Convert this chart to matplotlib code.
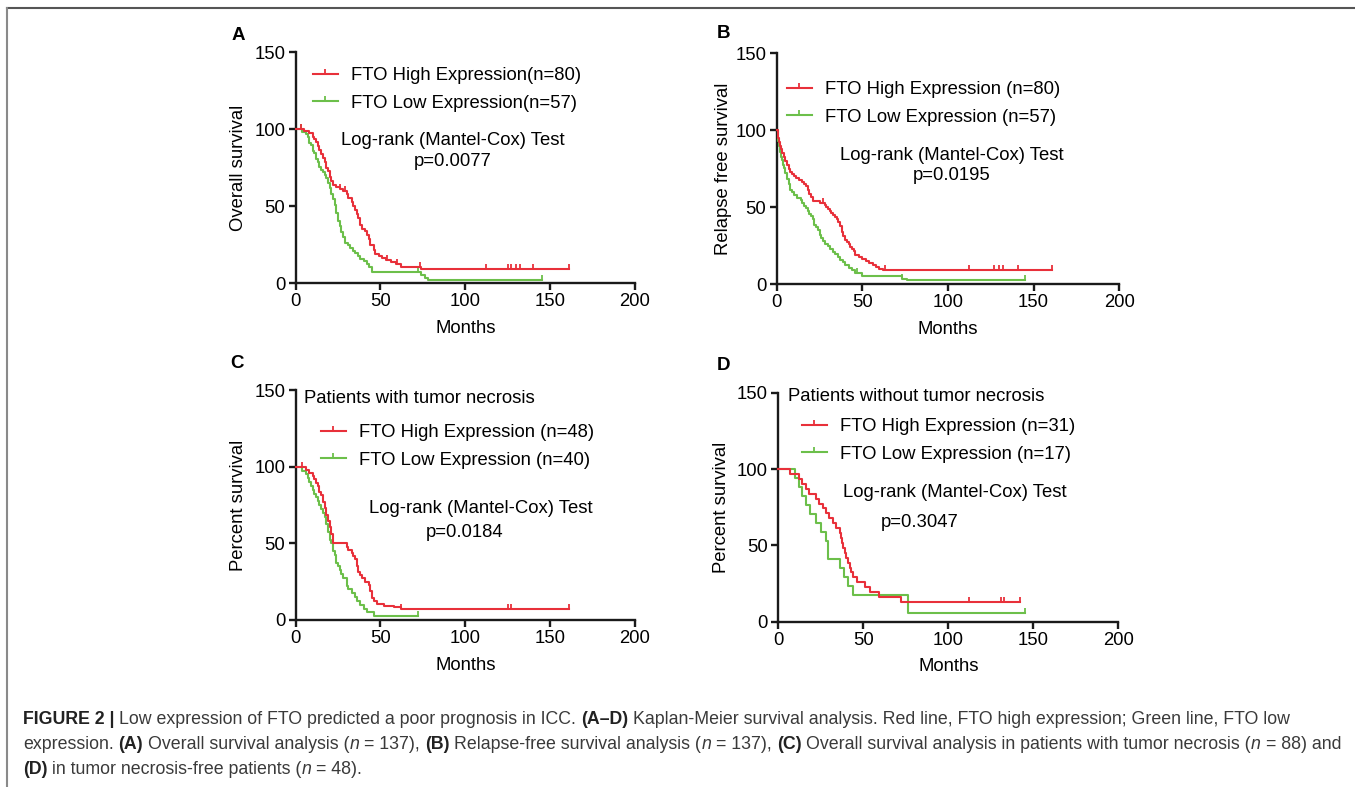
import numpy as np
import matplotlib
matplotlib.use('Agg')
import matplotlib.pyplot as plt
from matplotlib.path import Path
from matplotlib.lines import Line2D

plt.rcParams['font.family'] = ['Liberation Sans', 'DejaVu Sans']

RED = '#e8303a'
GREEN = '#6cbf4a'

# ---- data (months, % surviving after that time) ----
# A: overall survival
A_HIGH_T = [0, 5, 8, 10, 11, 12, 13, 14, 15, 16, 17, 18, 19, 20, 21, 22, 24, 26, 28, 30, 31, 33, 34, 35,
            36, 37, 38, 39, 41, 42, 43, 44, 46, 47, 49, 51, 53, 56, 59, 62, 74, 161]
A_HIGH_S = [100, 98.8, 97.5, 95.0, 93.8, 91.3, 88.8, 86.3, 83.8, 81.3, 78.8, 75.0, 72.5, 68.8, 66.3, 63.8,
            62.5, 61.3, 60.0, 57.5, 55.0, 52.5, 50.0, 47.5, 45.0, 42.5, 37.5, 35.0, 33.8, 31.3, 28.8, 25.0,
            21.3, 18.8, 17.5, 16.3, 15.0, 13.8, 12.5, 10.5, 9.0, 9.0]
A_HIGH_CENS = [3, 26, 29, 54, 60, 73, 112, 125, 127, 130, 132, 140, 161]
A_LOW_T = [0, 4, 6, 7, 8, 9, 10, 11, 12, 13, 14, 15, 16, 17, 18, 19, 20, 21, 22, 23, 24, 25, 26, 27, 28,
           29, 31, 32, 34, 35, 37, 38, 40, 42, 43, 45, 74, 76, 78, 145]
A_LOW_S = [100, 98.2, 96.5, 94.7, 91.2, 89.5, 86.0, 84.2, 80.7, 78.9, 75.4, 73.7, 71.9, 70.2, 68.4, 64.9,
           61.4, 57.9, 54.4, 50.9, 45.6, 40.4, 36.8, 33.3, 29.8, 26.3, 24.6, 22.8, 21.1, 19.3, 17.5, 15.8,
           14.0, 12.3, 10.5, 7.0, 5.3, 3.5, 1.8, 1.8]
A_LOW_CENS = [3, 72, 145]

# B: relapse free survival
B_HIGH_T = [0, 0.5, 1, 1.5, 2, 2.5, 3, 4, 5, 6, 7, 8, 9, 10, 11, 13, 15, 16, 17, 18, 19, 20, 21, 25, 28,
            29, 30, 31, 32, 33, 34, 35, 36, 37, 38, 39, 40, 41, 42, 43, 44, 45, 46, 48, 50, 52, 54, 56, 58,
            60, 62, 161]
B_HIGH_S = [100, 97.5, 95.0, 92.5, 90.0, 87.5, 85.0, 82.5, 80.0, 77.5, 75.0, 72.5, 71.3, 70.0, 68.8, 67.5,
            66.3, 65.0, 63.8, 61.3, 58.8, 56.3, 53.8, 52.5, 51.3, 50.0, 48.8, 47.5, 46.3, 45.0, 43.8, 42.5,
            40.0, 37.5, 33.8, 31.3, 28.8, 27.5, 26.3, 23.8, 22.5, 21.3, 18.8, 17.5, 16.3, 15.0, 13.8, 12.5,
            11.3, 10.0, 8.8, 8.8]
B_HIGH_CENS = [1, 27, 63, 112, 127, 130, 132, 141, 161]
B_LOW_T = [0, 0.5, 1, 1.5, 2, 2.5, 3, 3.5, 4, 5, 6, 7, 8, 9, 10, 12, 14, 15, 16, 17, 18, 19, 20, 21, 22,
           23, 24, 25, 26, 27, 28, 30, 31, 33, 34, 36, 37, 39, 40, 42, 44, 46, 50, 73, 76, 145]
B_LOW_S = [100, 96.5, 93.0, 89.5, 86.0, 82.5, 80.7, 77.2, 75.4, 71.9, 68.4, 64.9, 61.4, 59.6, 57.9, 56.1,
           54.4, 52.6, 50.9, 49.1, 47.4, 45.6, 43.9, 42.1, 38.6, 36.8, 35.1, 31.6, 29.8, 28.1, 26.3, 24.6,
           22.8, 21.1, 19.3, 17.5, 15.8, 14.0, 12.3, 10.5, 8.8, 7.0, 5.3, 3.5, 2.6, 2.6]
B_LOW_CENS = [1, 47, 73, 145]

# C: patients with tumor necrosis
C_HIGH_T = [0, 6, 8, 10, 11, 12, 13, 14, 15, 16, 17, 18, 19, 20, 21, 22, 30, 31, 33, 34, 35, 36, 37, 38,
            39, 41, 43, 44, 45, 46, 48, 52, 58, 62, 161]
C_HIGH_S = [100, 97.9, 95.8, 93.8, 91.7, 89.6, 87.5, 83.3, 81.3, 77.1, 72.9, 68.8, 64.6, 60.4, 56.3, 50.0,
            47.9, 45.8, 43.8, 41.7, 39.6, 35.4, 31.3, 29.2, 27.1, 25.0, 22.9, 18.8, 14.6, 12.5, 10.4, 9.4,
            8.3, 6.9, 6.9]
C_HIGH_CENS = [4, 62, 125, 127, 161]
C_LOW_T = [0, 4, 6, 7, 8, 9, 10, 11, 12, 13, 14, 15, 16, 17, 18, 19, 20, 21, 22, 23, 24, 25, 26, 27, 28,
           30, 31, 33, 35, 36, 38, 40, 42, 46, 72]
C_LOW_S = [100, 97.5, 95.0, 92.5, 90.0, 87.5, 85.0, 82.5, 80.0, 77.5, 75.0, 72.5, 70.0, 67.5, 62.5, 57.5,
           52.5, 50.0, 45.0, 42.5, 37.5, 35.0, 32.5, 30.0, 27.5, 22.5, 20.0, 17.5, 15.0, 12.5, 10.0, 7.5,
           5.0, 2.5, 2.5]
C_LOW_CENS = [72]

# D: patients without tumor necrosis
D_HIGH_T = [0, 7, 12, 14, 16, 18, 22, 24, 26, 28, 30, 32, 34, 36, 37, 37.5, 38, 39, 40, 41, 42, 43, 44,
            46, 51, 54, 59, 72, 142]
D_HIGH_S = [100, 96.8, 93.5, 90.3, 87.1, 83.9, 80.6, 77.4, 74.2, 71.0, 67.7, 64.5, 61.3, 58.1, 54.8, 51.6,
            48.4, 45.2, 41.9, 38.7, 35.5, 32.3, 29.0, 25.8, 22.6, 19.4, 16.1, 12.9, 12.9]
D_HIGH_CENS = [112, 131, 133, 142]
D_LOW_T = [0, 10, 12, 14, 16.5, 18.5, 22, 25, 28, 29, 36, 38.5, 41, 44, 76, 145]
D_LOW_S = [100, 94.1, 88.2, 82.4, 76.5, 70.6, 64.7, 58.8, 52.9, 41.2, 35.3, 29.4, 23.5, 17.6, 5.9, 5.9]
D_LOW_CENS = [145]

PANELS = ['A', 'B', 'C', 'D']
Y_LABELS = ['Overall survival', 'Relapse free survival', 'Percent survival', 'Percent survival']
HIGH_LABELS = ['FTO High Expression(n=80)', 'FTO High Expression (n=80)',
               'FTO High Expression (n=48)', 'FTO High Expression (n=31)']
LOW_LABELS = ['FTO Low Expression(n=57)', 'FTO Low Expression (n=57)',
              'FTO Low Expression (n=40)', 'FTO Low Expression (n=17)']
P_VALUES = ['p=0.0077', 'p=0.0195', 'p=0.0184', 'p=0.3047']
SUBTITLES = [None, None, 'Patients with tumor necrosis', 'Patients without tumor necrosis']

CURVES = [
    (A_HIGH_T, A_HIGH_S, A_HIGH_CENS, A_LOW_T, A_LOW_S, A_LOW_CENS),
    (B_HIGH_T, B_HIGH_S, B_HIGH_CENS, B_LOW_T, B_LOW_S, B_LOW_CENS),
    (C_HIGH_T, C_HIGH_S, C_HIGH_CENS, C_LOW_T, C_LOW_S, C_LOW_CENS),
    (D_HIGH_T, D_HIGH_S, D_HIGH_CENS, D_LOW_T, D_LOW_S, D_LOW_CENS),
]

# layout (figure fractions / axes fractions)
AX_RECTS = [(0.2182, 0.6404, 0.2504, 0.2935), (0.5732, 0.6391, 0.2528, 0.2932),
            (0.2182, 0.2122, 0.2504, 0.2922), (0.5744, 0.2100, 0.2509, 0.2910)]
LETTER_POS = [(238, 35), (723, 34), (237, 363), (723, 365)]
YLABEL_X = [-0.144, -0.131, -0.144, -0.142]
LEGEND_POS = [(0.051, 0.838), (0.029, 0.783), (0.0737, 0.755), (0.0688, 0.792)]
LOGRANK_POS = [(0.462, 0.619), (0.510, 0.556), (0.546, 0.483), (0.520, 0.565)]
P_POS = [(0.462, 0.525), (0.512, 0.469), (0.499, 0.381), (0.416, 0.434)]
SUB_POS = [None, None, (0.0245, 0.964), (0.0276, 0.983)]

CENSOR = Path([(0, 0), (0, 1)], [Path.MOVETO, Path.LINETO])
FS = 13.3
W, H = 1355, 787


def step_at(t, s, x):
    idx = np.searchsorted(np.asarray(t), np.asarray(x), side='right') - 1
    return np.asarray(s)[idx]


def draw_curve(ax, t, s, cens, color):
    ax.step(t, s, where='post', color=color, lw=1.5, clip_on=False, zorder=3)
    ax.plot(cens, step_at(t, s, cens), linestyle='none', marker=CENSOR, ms=7,
            mec=color, mfc='none', mew=1.3, clip_on=False, zorder=3)


fig = plt.figure(figsize=(W / 100, H / 100), dpi=100)

for i, p in enumerate(PANELS):
    ax = fig.add_axes(AX_RECTS[i])
    ht, hs, hc, lt, ls, lc = CURVES[i]
    draw_curve(ax, lt, ls, lc, GREEN)
    draw_curve(ax, ht, hs, hc, RED)

    ax.set_xlim(0, 200)
    ax.set_ylim(0, 150)
    ax.set_xticks([0, 50, 100, 150, 200])
    ax.set_yticks([0, 50, 100, 150])
    ax.spines[['top', 'right']].set_visible(False)
    for side in ['left', 'bottom']:
        ax.spines[side].set_linewidth(1.7)
        ax.spines[side].set_color('#1a1a1a')
    ax.tick_params(direction='out', length=5, width=1.7, color='#1a1a1a', labelsize=FS, pad=2.5)
    ax.set_xlabel('Months', fontsize=FS)
    ax.xaxis.set_label_coords(0.5, -0.16)
    ax.set_ylabel(Y_LABELS[i], fontsize=FS)
    ax.yaxis.set_label_coords(YLABEL_X[i], 0.5)

    handles = [
        Line2D([0], [0], color=RED, lw=1.5, marker=CENSOR, ms=7, mfc='none', mec=RED, mew=1.3),
        Line2D([0], [0], color=GREEN, lw=1.5, marker=CENSOR, ms=7, mfc='none', mec=GREEN, mew=1.3),
    ]
    ax.legend(handles, [HIGH_LABELS[i], LOW_LABELS[i]], loc='center left',
              bbox_to_anchor=LEGEND_POS[i], frameon=False, fontsize=FS, numpoints=1,
              handlelength=1.35, handletextpad=0.73, labelspacing=0.57,
              borderpad=0, borderaxespad=0)

    ax.text(*LOGRANK_POS[i], 'Log-rank (Mantel-Cox) Test', transform=ax.transAxes,
            ha='center', va='center', fontsize=FS)
    ax.text(*P_POS[i], P_VALUES[i], transform=ax.transAxes,
            ha='center', va='center', fontsize=FS)
    if SUBTITLES[i]:
        ax.text(*SUB_POS[i], SUBTITLES[i], transform=ax.transAxes,
                ha='left', va='center', fontsize=FS)

    lx, ly = LETTER_POS[i]
    fig.text(lx / W, 1 - ly / H, p, ha='center', va='center', fontsize=13.5, fontweight='bold')

# frame lines (top and left only)
fig.add_artist(Line2D([7 / W, 1], [1 - 8.3 / H, 1 - 8.3 / H], color='#555555', lw=1.5))
fig.add_artist(Line2D([7.3 / W, 7.3 / W], [1 - 8.3 / H, 0], color='#8a8a8a', lw=1.5))

# caption with mixed bold / italic runs
CAP_FS = 12.8
CAP_COLOR = '#3a3a3a'
CAPTION = [
    [('FIGURE 2 |', 'bold'), (' Low expression of FTO predicted a poor prognosis in ICC. ', 'normal'),
     ('(A–D)', 'bold'),
     (' Kaplan-Meier survival analysis. Red line, FTO high expression; Green line, FTO low', 'normal')],
    [('expression. ', 'normal'), ('(A)', 'bold'), (' Overall survival analysis (', 'normal'),
     ('n', 'italic'), (' = 137), ', 'normal'), ('(B)', 'bold'),
     (' Relapse-free survival analysis (', 'normal'), ('n', 'italic'), (' = 137), ', 'normal'),
     ('(C)', 'bold'), (' Overall survival analysis in patients with tumor necrosis (', 'normal'),
     ('n', 'italic'), (' = 88) and', 'normal')],
    [('(D)', 'bold'), (' in tumor necrosis-free patients (', 'normal'), ('n', 'italic'),
     (' = 48).', 'normal')],
]
CAP_BASELINES = [724, 749, 774]

renderer = fig.canvas.get_renderer()


def text_width(s, **kw):
    t = fig.text(0, 0, s, fontsize=CAP_FS, **kw)
    w = t.get_window_extent(renderer).width
    t.remove()
    return w


space_w = text_width('x x') - text_width('xx')

for line, base in zip(CAPTION, CAP_BASELINES):
    x = 23.0
    for seg, style in line:
        kw = {}
        if style == 'bold':
            kw['fontweight'] = 'bold'
            kw['color'] = '#222222'
        elif style == 'italic':
            kw['fontstyle'] = 'italic'
        core = seg.strip(' ')
        lead = len(seg) - len(seg.lstrip(' '))
        trail = len(seg) - len(seg.rstrip(' '))
        x += lead * space_w
        kw.setdefault('color', CAP_COLOR)
        t = fig.text(x / W, 1 - base / H, core, fontsize=CAP_FS,
                     ha='left', va='baseline', **kw)
        x += t.get_window_extent(renderer).width + trail * space_w

fig.savefig('out.png', dpi=100)
